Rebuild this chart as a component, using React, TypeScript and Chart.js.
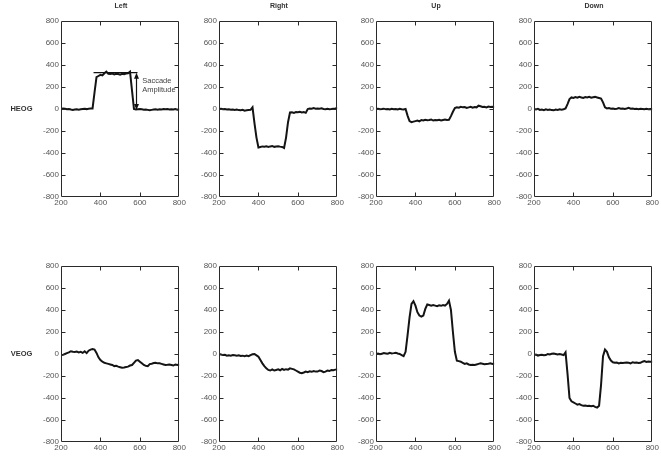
import React, { useEffect, useRef } from "react";
import { Chart, registerables } from "chart.js";

Chart.register(...registerables);

// ---------- DATA ----------
const timeMs = [
  200, 210, 220, 230, 240, 250, 260, 270, 280, 290,
  300, 310, 320, 330, 340, 350, 360, 370, 380, 390,
  400, 410, 420, 430, 440, 450, 460, 470, 480, 490,
  500, 510, 520, 530, 540, 550, 560, 570, 580, 590,
  600, 610, 620, 630, 640, 650, 660, 670, 680, 690,
  700, 710, 720, 730, 740, 750, 760, 770, 780, 790,
  800,
];

const columnTitles = ["Left", "Right", "Up", "Down"];
const rowLabels = ["HEOG", "VEOG"];

const heogLeft = [
  0, 5, 2, -3, 0, -5, -8, -4, -2, -6,
  -3, 0, 2, -1, 3, 4, 5, 150, 290, 300,
  310, 305, 325, 340, 320, 318, 322, 315, 320, 318,
  312, 320, 316, 322, 325, 340, 170, 0, -5, -2,
  0, -3, -6, -4, -8, -12, -8, -5, -3, -6,
  -2, -4, 0, -3, -1, -5, -2, -4, 0, -6,
  -3,
];
const heogRight = [
  0, 2, -3, -1, -5, -2, -6, -4, -8, -5,
  -10, -12, -8, -15, -12, -10, -8, 15, -130, -260,
  -350, -345, -340, -342, -338, -345, -340, -336, -344, -340,
  -338, -342, -345, -355, -260, -120, -32, -30, -35, -28,
  -30, -25, -32, -28, -35, 0, 5, 2, 8, 3,
  5, 2, 6, 0, -3, 2, -2, 0, 3, 5,
  10,
];
const heogUp = [
  0, 2, -2, 0, 3, -3, 0, -5, 2, -2,
  0, -5, 2, -3, -5, 0, -60, -110, -120, -115,
  -110, -105, -112, -100, -105, -98, -102, -100, -95, -105,
  -100, -102, -98, -105, -100, -96, -100, -98, -65, -25,
  8, 15, 12, 20, 15, 18, 10, 15, 20, 12,
  18, 15, 30, 25, 18, 20, 15, 22, 18, 20,
  15,
];
const heogDown = [
  0, -5, 2, -8, -5, -10, -3, -8, -5, -10,
  -12, -5, -8, -3, -6, -2, 5, 45, 90, 105,
  100, 108, 102, 110, 105, 100, 108, 104, 110, 102,
  106, 110, 105, 100, 95, 60, 15, 5, 8, 2,
  5, 0, 3, 8, 2, 5, 0, 4, 10, 2,
  5, 0, 3, -2, 2, 0, -3, 2, -2, 0,
  -2,
];
const veogLeft = [
  -10, -8, 0, 8, 15, 25, 20, 18, 22, 15,
  20, 10, 25, 8, 30, 40, 45, 40, 10, -30,
  -55, -70, -80, -85, -90, -95, -100, -110, -108, -115,
  -120, -125, -122, -118, -115, -105, -100, -80, -60, -55,
  -70, -85, -100, -108, -110, -92, -88, -82, -80, -85,
  -85, -90, -95, -100, -98, -95, -100, -105, -95, -100,
  -95,
];
const veogRight = [
  0, -5, -10, -8, -15, -12, -15, -10, -12, -15,
  -12, -18, -15, -20, -15, -20, -10, -3, 0, -12,
  -25, -55, -85, -110, -130, -145, -150, -140, -150, -145,
  -140, -148, -135, -145, -138, -142, -130, -135, -140, -150,
  -160, -170, -175, -168, -160, -165, -158, -162, -155, -160,
  -160, -150, -155, -165, -160, -150, -155, -145, -148, -142,
  -140,
];
const veogUp = [
  0, 5, -2, 3, 8, 5, 2, 10, 5, 8,
  12, 5, 0, -10, -20, 20, 170, 330, 455, 480,
  440, 380, 350, 340, 350, 410, 450, 445, 440, 445,
  440, 435, 442, 438, 445, 440, 455, 485, 400, 200,
  20, -60, -65, -70, -80, -90, -85, -95, -100, -98,
  -100, -95, -90, -85, -88, -92, -90, -88, -85, -90,
  -85,
];
const veogDown = [
  -10, -5, -15, -10, -8, -12, -10, 0, -5, 2,
  5, 0, -5, 0, -5, -10, 15, -180, -400, -430,
  -440, -450, -460, -455, -465, -470, -468, -472, -470, -475,
  -470, -480, -488, -470, -280, -20, 40, 20, -30, -60,
  -75, -80, -78, -85, -80, -82, -80, -78, -80, -85,
  -75, -80, -78, -82, -80, -70, -65, -72, -68, -70,
  -70,
];

const panelSeries = [
  heogLeft, heogRight, heogUp, heogDown,
  veogLeft, veogRight, veogUp, veogDown,
];

const xTicksMin = 200;
const xTicksMax = 800;
const xTickStep = 200;
const yTicksMin = -800;
const yTicksMax = 800;
const yTickStep = 200;

// Saccade amplitude annotation (first panel), in data units
const saccadeLineX = [365, 588];
const saccadeLevel = 330;
const saccadeArrowX = 582;
const saccadeArrowBottom = -10;
const saccadeText = ["Saccade", "Amplitude"];
const saccadeTextX = 612;
const saccadeTextY = [255, 170];

// ---------- LAYOUT ----------
const colLefts = [61, 219, 376, 534];
const rowTops = [21, 266];
const plotW = 120;
const plotH = 176;
const padL = 40;
const padT = 18;
const padR = 6;
const padB = 18;
const FONT = "'Liberation Sans', Arial, Helvetica, sans-serif";

const boxPlugin = {
  id: "matlabBox",
  afterDraw(chart: any) {
    const { ctx, chartArea: a } = chart;
    const xs = chart.scales.x;
    const ys = chart.scales.y;
    ctx.save();
    ctx.strokeStyle = "#2a2a2a";
    ctx.lineWidth = 1;
    const L = Math.round(a.left) + 0.5;
    const R = Math.round(a.right) - 0.5;
    const T = Math.round(a.top) + 0.5;
    const B = Math.round(a.bottom) - 0.5;
    ctx.beginPath();
    ctx.rect(L, T, R - L, B - T);
    ctx.stroke();
    const tl = 4;
    const xv: number[] = [];
    for (let v = xTicksMin + xTickStep; v < xTicksMax; v += xTickStep) xv.push(v);
    const yv: number[] = [];
    for (let v = yTicksMin + yTickStep; v < yTicksMax; v += yTickStep) yv.push(v);
    ctx.beginPath();
    xv.forEach((v) => {
      const px = Math.round(xs.getPixelForValue(v)) + 0.5;
      ctx.moveTo(px, B);
      ctx.lineTo(px, B - tl);
      ctx.moveTo(px, T);
      ctx.lineTo(px, T + tl);
    });
    yv.forEach((v) => {
      const py = Math.round(ys.getPixelForValue(v)) + 0.5;
      ctx.moveTo(L, py);
      ctx.lineTo(L + tl, py);
      ctx.moveTo(R, py);
      ctx.lineTo(R - tl, py);
    });
    ctx.stroke();
    ctx.restore();
  },
};

const saccadePlugin = {
  id: "saccade",
  afterDatasetsDraw(chart: any) {
    const { ctx, scales } = chart;
    const x = scales.x;
    const y = scales.y;
    ctx.save();
    ctx.strokeStyle = "#111";
    ctx.fillStyle = "#111";
    ctx.lineWidth = 1.2;
    const yl = y.getPixelForValue(saccadeLevel);
    ctx.beginPath();
    ctx.moveTo(x.getPixelForValue(saccadeLineX[0]), yl);
    ctx.lineTo(x.getPixelForValue(saccadeLineX[1]), yl);
    ctx.stroke();
    const ax = Math.round(x.getPixelForValue(saccadeArrowX)) + 0.5;
    const yb = y.getPixelForValue(saccadeArrowBottom);
    ctx.beginPath();
    ctx.moveTo(ax, yl + 4);
    ctx.lineTo(ax, yb - 4);
    ctx.stroke();
    ctx.beginPath();
    ctx.moveTo(ax, yl);
    ctx.lineTo(ax - 2.5, yl + 6);
    ctx.lineTo(ax + 2.5, yl + 6);
    ctx.closePath();
    ctx.fill();
    ctx.beginPath();
    ctx.moveTo(ax, yb);
    ctx.lineTo(ax - 2.5, yb - 6);
    ctx.lineTo(ax + 2.5, yb - 6);
    ctx.closePath();
    ctx.fill();
    ctx.fillStyle = "#444";
    ctx.font = `7.5px ${FONT}`;
    ctx.textAlign = "left";
    ctx.textBaseline = "middle";
    saccadeText.forEach((t, i) => {
      ctx.fillText(t, x.getPixelForValue(saccadeTextX), y.getPixelForValue(saccadeTextY[i]));
    });
    ctx.restore();
  },
};

function Panel({ index }: { index: number }) {
  const ref = useRef<HTMLCanvasElement | null>(null);
  useEffect(() => {
    if (!ref.current) return;
    const values = panelSeries[index];
    const chart = new Chart(ref.current, {
      type: "line",
      data: {
        datasets: [
          {
            data: timeMs.map((t, i) => ({ x: t, y: values[i] })),
            borderColor: "#141414",
            borderWidth: 2,
            pointRadius: 0,
            tension: 0,
            fill: false,
          },
        ],
      },
      options: {
        animation: false,
        responsive: false,
        devicePixelRatio: 1,
        layout: { padding: { left: 0, top: padT, right: padR, bottom: 0 } },
        plugins: { legend: { display: false }, tooltip: { enabled: false }, title: { display: false } },
        scales: {
          x: {
            type: "linear",
            min: xTicksMin,
            max: xTicksMax,
            grid: { display: false, drawTicks: false },
            border: { display: false },
            ticks: {
              stepSize: xTickStep,
              padding: 1,
              color: "#555",
              font: { family: FONT, size: 8 },
              maxRotation: 0,
              autoSkip: false,
            },
            afterFit(scale: any) {
              scale.height = padB;
            },
          },
          y: {
            type: "linear",
            min: yTicksMin,
            max: yTicksMax,
            grid: { display: false, drawTicks: false },
            border: { display: false },
            ticks: {
              stepSize: yTickStep,
              padding: 2,
              color: "#555",
              font: { family: FONT, size: 8 },
              autoSkip: false,
            },
            afterFit(scale: any) {
              scale.width = padL;
            },
          },
        },
      } as any,
      plugins: index === 0 ? [boxPlugin, saccadePlugin] : [boxPlugin],
    });
    return () => chart.destroy();
  }, [index]);
  const col = index % 4;
  const row = Math.floor(index / 4);
  const w = padL + plotW + padR;
  const h = padT + plotH + padB;
  return (
    <canvas
      ref={ref}
      width={w}
      height={h}
      style={{
        position: "absolute",
        left: colLefts[col] - padL,
        top: rowTops[row] - padT,
        width: w,
        height: h,
      }}
    />
  );
}

export default function App() {
  return (
    <div
      style={{
        position: "absolute",
        left: 0,
        top: 0,
        width: 661,
        height: 461,
        background: "#fff",
        overflow: "hidden",
        fontFamily: FONT,
      }}
    >
      {panelSeries.map((_, i) => (
        <Panel key={i} index={i} />
      ))}
      {columnTitles.map((t, i) => (
        <div
          key={t}
          style={{
            position: "absolute",
            left: colLefts[i],
            top: 0,
            width: plotW,
            textAlign: "center",
            fontSize: 7,
            lineHeight: "12px",
            fontWeight: "bold",
            color: "#333",
          }}
        >
          {t}
        </div>
      ))}
      {rowLabels.map((t, i) => (
        <div
          key={t}
          style={{
            position: "absolute",
            left: 0,
            top: rowTops[i] + plotH / 2 - 6,
            width: 43,
            textAlign: "center",
            fontSize: 7.5,
            lineHeight: "12px",
            fontWeight: "bold",
            color: "#333",
          }}
        >
          {t}
        </div>
      ))}
    </div>
  );
}
